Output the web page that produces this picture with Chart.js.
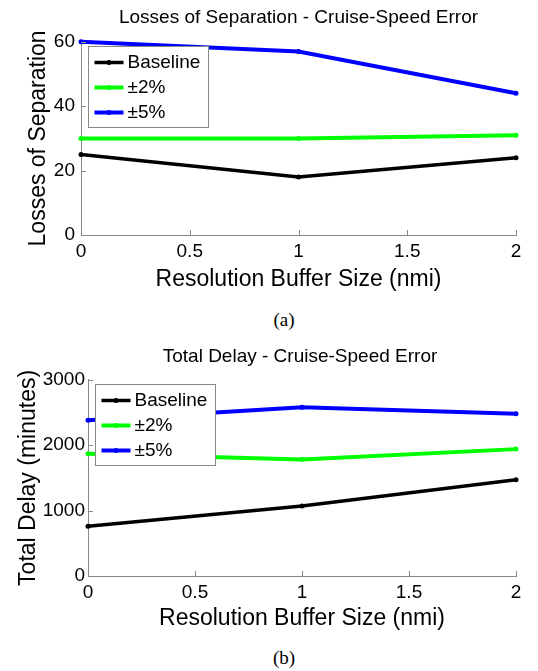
<!DOCTYPE html>
<html>
<head>
<meta charset="utf-8">
<script src="https://cdn.jsdelivr.net/npm/chart.js@4/dist/chart.umd.min.js"></script>
<style>
  html, body { margin: 0; padding: 0; overflow: hidden; background: #fff; }
  body { position: relative; width: 538px; height: 671px; }
  .box { position: absolute; left: 0; }
  .cap { position: absolute; left: 0; width: 568px; text-align: center; line-height: 22px;
         font: 19px "Liberation Serif", "Times New Roman", serif; color: #000; }
</style>
</head>
<body>
<div class="box" style="top:0"><canvas id="lossChart" width="597" height="300"></canvas></div>
<div class="cap" style="top:309px">(a)</div>
<div class="box" style="top:330px"><canvas id="delayChart" width="600" height="310"></canvas></div>
<div class="cap" style="top:647px">(b)</div>

<script>
// data
const bufferSizes = [0, 1, 2];
const seriesNames = ['Baseline', '\u00b12%', '\u00b15%'];
const seriesColors = ['#000000', '#00ff00', '#0000ff'];

const lossBaseline = [25, 18, 24];
const lossErr2 = [30, 30, 31];
const lossErr5 = [60, 57, 44];

const delayBaseline = [760, 1070, 1470];
const delayErr2 = [1870, 1780, 1940];
const delayErr5 = [2380, 2580, 2480];

const lossTicks = [0, 20, 40, 60];
const delayTicks = [0, 1000, 2000, 3000];

const FONT = '"Liberation Sans", Arial, Helvetica, sans-serif';
const AXIS_GRAY = '#888888';

// matlab style: inward tick marks + legend box inside the axes
const matlabAxes = {
  id: 'matlabAxes',
  afterDatasetsDraw(chart) {
    const { ctx, chartArea: a, scales: { x, y } } = chart;
    ctx.save();
    ctx.strokeStyle = AXIS_GRAY;
    ctx.lineWidth = 1;
    x.ticks.forEach(t => {
      const px = Math.round(x.getPixelForValue(t.value)) + 0.5;
      ctx.beginPath(); ctx.moveTo(px, a.bottom); ctx.lineTo(px, a.bottom - 5); ctx.stroke();
    });
    y.ticks.forEach(t => {
      const py = Math.round(y.getPixelForValue(t.value)) + 0.5;
      ctx.beginPath(); ctx.moveTo(a.left, py); ctx.lineTo(a.left + 5, py); ctx.stroke();
    });
    ctx.restore();
  },
  afterDraw(chart) {
    const { ctx, chartArea: a } = chart;
    const bx = Math.round(a.left + 7) + 0.5;
    const by = Math.round(a.top + 4) + 0.5;
    const bw = 120, bh = 81;
    ctx.save();
    ctx.fillStyle = '#fff';
    ctx.fillRect(bx, by, bw, bh);
    ctx.strokeStyle = AXIS_GRAY;
    ctx.lineWidth = 1;
    ctx.strokeRect(bx, by, bw, bh);
    ctx.font = '19px ' + FONT;
    ctx.textBaseline = 'middle';
    chart.data.datasets.forEach((ds, i) => {
      const ly = by + 16 + i * 25;
      ctx.strokeStyle = ds.borderColor;
      ctx.lineWidth = ds.borderWidth;
      ctx.beginPath(); ctx.moveTo(bx + 6, ly); ctx.lineTo(bx + 35, ly); ctx.stroke();
      ctx.fillStyle = ds.borderColor;
      ctx.beginPath(); ctx.arc(bx + 20.5, ly, 2.5, 0, Math.PI * 2); ctx.fill();
      ctx.fillStyle = '#000';
      ctx.fillText(ds.label, bx + 39, ly);
    });
    ctx.restore();
  }
};

function makeDatasets(lists) {
  return lists.map((vals, i) => ({
    label: seriesNames[i],
    data: bufferSizes.map((b, j) => ({ x: b, y: vals[j] })),
    borderColor: seriesColors[i],
    backgroundColor: seriesColors[i],
    borderWidth: i === 0 ? 3.5 : 4,
    pointRadius: 2.5,
    pointBorderWidth: 0,
    clip: false
  }));
}

function makeChart(id, cfg) {
  const tickList = cfg.ticks;
  new Chart(document.getElementById(id), {
    type: 'line',
    data: { datasets: makeDatasets(cfg.series) },
    plugins: [matlabAxes],
    options: {
      responsive: false,
      animation: false,
      layout: { padding: 0 },
      plugins: {
        legend: { display: false },
        tooltip: { enabled: false },
        title: {
          display: true,
          text: cfg.title,
          color: '#000',
          font: { family: FONT, size: 19, weight: 'normal' },
          padding: { top: cfg.titleTop, bottom: cfg.titleBottom }
        }
      },
      scales: {
        x: {
          type: 'linear',
          min: 0, max: 2,
          afterFit: s => { s.height = cfg.xHeight; s.paddingRight = cfg.padRight; },
          ticks: {
            stepSize: 0.5, color: '#000', padding: 5, font: { family: FONT, size: 19 },
            callback: v => String(v)
          },
          grid: { drawOnChartArea: false, drawTicks: false },
          border: { color: AXIS_GRAY, width: 1 },
          title: {
            display: true, text: 'Resolution Buffer Size (nmi)', color: '#000',
            font: { family: FONT, size: 23 }, padding: { top: 0, bottom: cfg.xTitlePad }
          }
        },
        y: {
          min: tickList[0], max: tickList[tickList.length - 1],
          afterFit: s => { s.width = cfg.yWidth; },
          afterBuildTicks: s => { s.ticks = tickList.map(v => ({ value: v })); },
          ticks: {
            color: '#000', padding: cfg.yTickPad, font: { family: FONT, size: 19 },
            callback: v => String(v)
          },
          grid: { drawOnChartArea: false, drawTicks: false },
          border: { color: AXIS_GRAY, width: 1 },
          title: {
            display: true, text: cfg.yLabel, color: '#000',
            font: { family: FONT, size: 23 }, padding: { top: cfg.yTitlePad, bottom: 0 }
          }
        }
      }
    }
  });
}

makeChart('lossChart', {
  title: 'Losses of Separation - Cruise-Speed Error',
  yLabel: 'Losses of Separation',
  series: [lossBaseline, lossErr2, lossErr5],
  ticks: lossTicks,
  padRight: 81,
  titleTop: 6, titleBottom: 13,
  xHeight: 65, xTitlePad: 7,
  yWidth: 81, yTickPad: 6, yTitlePad: 25
});

makeChart('delayChart', {
  title: 'Total Delay - Cruise-Speed Error',
  yLabel: 'Total Delay (minutes)',
  series: [delayBaseline, delayErr2, delayErr5],
  ticks: delayTicks,
  padRight: 84,
  titleTop: 15, titleBottom: 12,
  xHeight: 64, xTitlePad: 8,
  yWidth: 88, yTickPad: 3, yTitlePad: 15
});
</script>
</body>
</html>
